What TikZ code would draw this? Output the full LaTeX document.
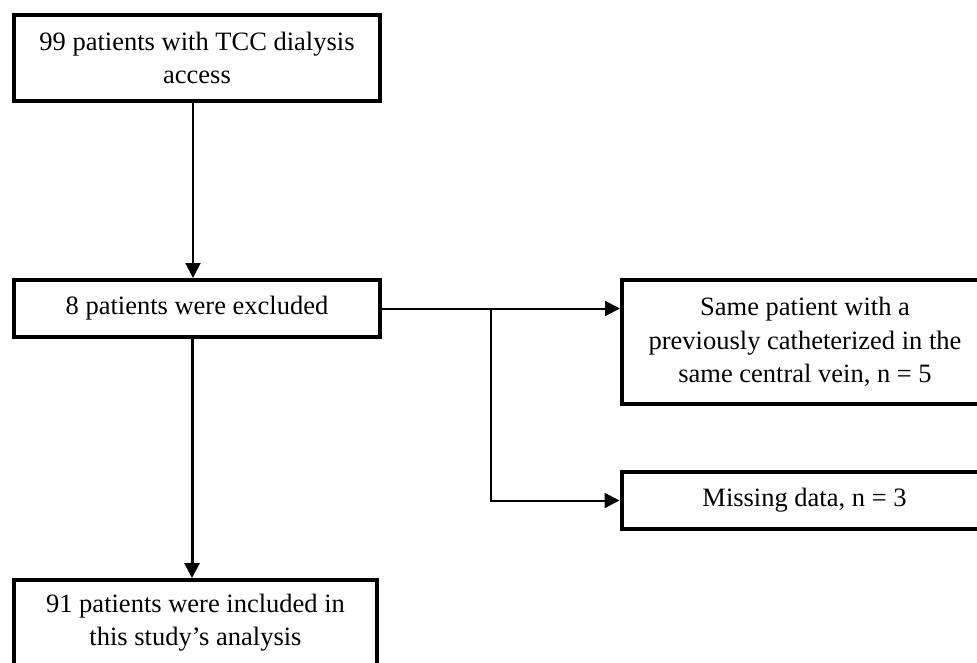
\documentclass[tikz,border=0pt]{standalone}
\usepackage{fontspec}
\setmainfont{Liberation Serif}
\usetikzlibrary{arrows.meta}

\begin{document}
\begin{tikzpicture}[x=1pt, y=-1pt,
    box/.style={draw, line width=4pt, align=center, inner sep=0pt,
      minimum width=366pt, font=\fontsize{26.5pt}{33.5pt}\selectfont},
    link/.style={line width=2pt, -{Triangle[length=15pt,width=15pt]}}]
  \clip (0,0) rectangle (977,662);

  \node[box, minimum height=86pt] (start) at (197,58) {99 patients with TCC dialysis\\access};
  \node[box, minimum height=57pt] (excl) at (197,308.5) {8 patients were excluded};
  \node[box, minimum height=124pt] (same) at (805,342) {Same patient with a\\previously catheterized in the\\same central vein, n = 5};
  \node[box, minimum height=57pt] (miss) at (804.5,500.5) {Missing data, n = 3};
  \node[box, minimum height=85pt, minimum width=363pt] (incl) at (195.5,622.5) {91 patients were included in\\this study’s analysis};

  \coordinate (split) at (491,308.5);

  \draw[link] ([xshift=-4pt]start.south) -- ([xshift=-4pt]start.south |- excl.north);
  \draw[link, line width=3pt] ([xshift=-5pt]excl.south) -- ([xshift=-5pt]excl.south |- incl.north);
  \draw[link] (excl.east) -- (excl.east -| same.west);
  \draw[link] (split) |- (miss.west);
\end{tikzpicture}
\end{document}
